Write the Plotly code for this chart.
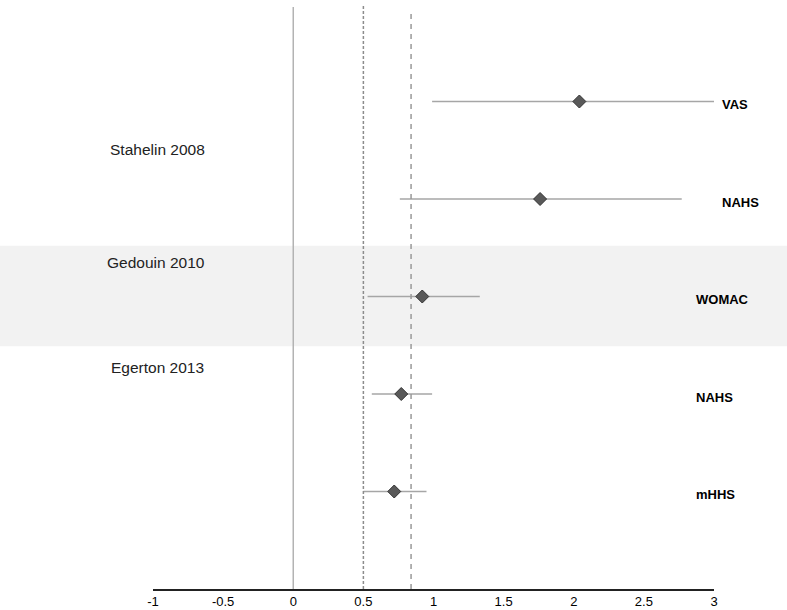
import plotly.graph_objects as go

# ---- data ----
outcomes = ["VAS", "NAHS", "WOMAC", "NAHS", "mHHS"]
estimate = [2.04, 1.76, 0.92, 0.77, 0.72]
ci_lower = [0.99, 0.76, 0.53, 0.56, 0.50]
ci_upper = [3.00, 2.77, 1.33, 0.99, 0.95]
row_pos = [5, 4, 3, 2, 1]

studies = ["Stahelin 2008", "Gedouin 2010", "Egerton 2013"]
study_pos = [4.51, 3.35, 2.27]

ref_solid = 0.0
ref_dotted = 0.5
ref_dashed = 0.84

tick_vals = [-1, -0.5, 0, 0.5, 1, 1.5, 2, 2.5, 3]
tick_text = ["-1", "-0.5", "0", "0.5", "1", "1.5", "2", "2.5", "3"]

FONT = "Liberation Sans, Arial, sans-serif"
YMAX = 6.0

fig = go.Figure()

fig.add_trace(go.Scatter(
    x=estimate, y=row_pos, mode="markers",
    marker=dict(symbol="diamond", size=10, color="#595959",
                line=dict(color="#333333", width=1)),
    error_x=dict(type="data", symmetric=False,
                 array=[u - e for u, e in zip(ci_upper, estimate)],
                 arrayminus=[e - l for e, l in zip(estimate, ci_lower)],
                 color="#a6a6a6", thickness=1.5, width=0),
    showlegend=False, hoverinfo="x+y",
))

shapes = []
# grey band behind Gedouin row (full page width)
shapes.append(dict(type="rect", xref="paper", yref="paper",
                   x0=-0.3, x1=1.2, y0=2.49 / YMAX, y1=3.52 / YMAX,
                   fillcolor="#f2f2f2", line=dict(width=0), layer="below"))
shapes.append(dict(type="line", xref="x", yref="paper", x0=ref_solid, x1=ref_solid,
                   y0=0, y1=0.995, line=dict(color="#b3b3b3", width=1.5)))
shapes.append(dict(type="line", xref="x", yref="paper", x0=ref_dotted, x1=ref_dotted,
                   y0=0, y1=1.0, line=dict(color="#8c8c8c", width=1.5, dash="3px,2px")))
shapes.append(dict(type="line", xref="x", yref="paper", x0=ref_dashed, x1=ref_dashed,
                   y0=0, y1=0.985, line=dict(color="#999999", width=1.5, dash="5px,5px")))

annotations = []
label_x = [1.0107, 1.0107, 0.9643, 0.9643, 0.9643]
for lab, yp, lx in zip(outcomes, row_pos, label_x):
    annotations.append(dict(text="<b>" + lab + "</b>", x=lx, y=yp - 0.035,
                            xref="paper", yref="y", xanchor="left", yanchor="middle",
                            showarrow=False, font=dict(family=FONT, size=13, color="#000000")))
study_x = [0.008, 0.0045, 0.0089]
for s, yp, sx in zip(studies, study_pos, study_x):
    annotations.append(dict(text=s, x=sx, y=yp, xref="paper", yref="y",
                            xanchor="center", yanchor="middle", showarrow=False,
                            font=dict(family=FONT, size=15.5, color="#222222")))

fig.update_layout(
    width=787, height=610,
    margin=dict(l=153, r=73, t=4, b=21),
    paper_bgcolor="white", plot_bgcolor="rgba(0,0,0,0)",
    shapes=shapes, annotations=annotations,
    font=dict(family=FONT, size=13, color="#000000"),
    xaxis=dict(range=[-1, 3], tickvals=tick_vals, ticktext=tick_text,
               showgrid=False, zeroline=False, showline=True,
               linecolor="#222222", linewidth=1.5, ticks="",
               tickfont=dict(family=FONT, size=13, color="#000000"),
               automargin=False, fixedrange=True),
    yaxis=dict(range=[0, YMAX], visible=False, showgrid=False, zeroline=False,
               automargin=False, fixedrange=True),
)

fig.write_html("out.html", config={"displayModeBar": False},
               post_script="document.body.style.margin='0';document.body.style.overflow='hidden';")
